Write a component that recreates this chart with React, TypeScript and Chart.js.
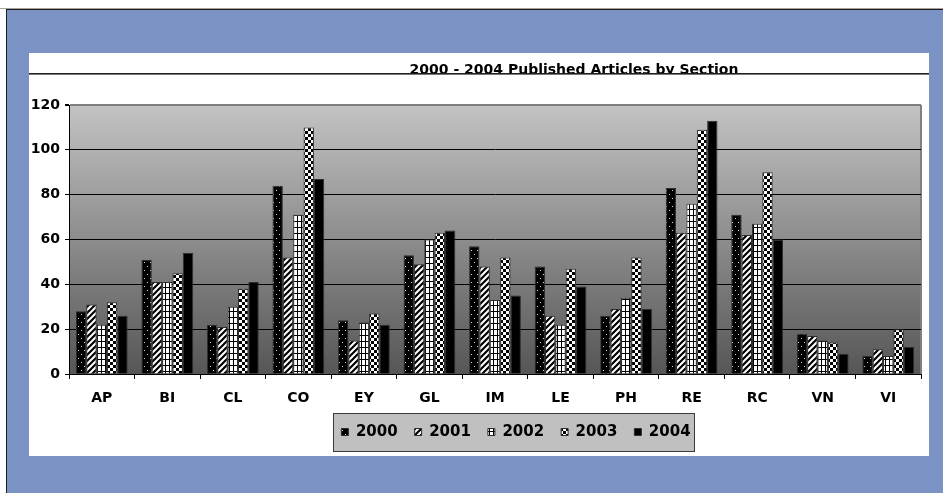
import React, { useEffect, useRef } from 'react';
import { Chart, registerables } from 'chart.js';

Chart.register(...registerables);

const categories = ['AP', 'BI', 'CL', 'CO', 'EY', 'GL', 'IM', 'LE', 'PH', 'RE', 'RC', 'VN', 'VI'];
const seriesNames = ['2000', '2001', '2002', '2003', '2004'];
const values2000 = [28, 51, 22, 84, 24, 53, 57, 48, 26, 83, 71, 18, 8];
const values2001 = [31, 41, 21, 52, 15, 49, 48, 26, 29, 63, 62, 17, 11];
const values2002 = [22, 41, 30, 71, 23, 60, 33, 22, 34, 76, 67, 15, 8];
const values2003 = [32, 45, 38, 110, 27, 63, 52, 47, 52, 109, 90, 14, 20];
const values2004 = [26, 54, 41, 87, 22, 64, 35, 39, 29, 113, 60, 9, 12];
const yTicks = [0, 20, 40, 60, 80, 100, 120];
const chartTitle = '2000 - 2004 Published Articles by Section';

const FONT = '"DejaVu Sans", "Liberation Sans", Arial, sans-serif';
const CANVAS_W = 900;
const CANVAS_H = 403;
const LEGEND_SHIFT = 41;

function makePattern(kind: string): CanvasPattern | string {
  if (kind === 'solid') return '#000000';
  const c = document.createElement('canvas');
  const x = c.getContext('2d') as CanvasRenderingContext2D;
  if (kind === 'dots') {
    c.width = 6; c.height = 8;
    x.fillStyle = '#000'; x.fillRect(0, 0, 6, 8);
    x.fillStyle = '#d8d8d8';
    x.fillRect(1, 1, 1, 1);
    x.fillRect(4, 5, 1, 1);
  } else if (kind === 'diag') {
    c.width = 6; c.height = 6;
    x.fillStyle = '#fff'; x.fillRect(0, 0, 6, 6);
    x.strokeStyle = '#000'; x.lineWidth = 2.2;
    x.beginPath();
    x.moveTo(-1, 7); x.lineTo(7, -1);
    x.moveTo(-1, 1); x.lineTo(1, -1);
    x.moveTo(5, 7); x.lineTo(7, 5);
    x.stroke();
  } else if (kind === 'grid') {
    c.width = 4; c.height = 6;
    x.fillStyle = '#fff'; x.fillRect(0, 0, 4, 6);
    x.fillStyle = '#000';
    x.fillRect(0, 0, 4, 1);
    x.fillRect(0, 0, 1, 6);
  } else if (kind === 'checker') {
    c.width = 6; c.height = 6;
    x.fillStyle = '#fff'; x.fillRect(0, 0, 6, 6);
    x.fillStyle = '#000';
    x.fillRect(0, 0, 3, 3);
    x.fillRect(3, 3, 3, 3);
  }
  return x.createPattern(c, 'repeat') as CanvasPattern;
}

const framePlugin = {
  id: 'framePlugin',
  afterLayout(chart: any) {
    const lg = chart.legend;
    if (lg) {
      lg.left += LEGEND_SHIFT;
      lg.right += LEGEND_SHIFT;
    }
  },
  beforeDraw(chart: any) {
    const { ctx, chartArea: a } = chart;
    ctx.save();
    // plot background gradient
    const g = ctx.createLinearGradient(0, a.top, 0, a.bottom);
    g.addColorStop(0, '#c3c3c3');
    g.addColorStop(1, '#565656');
    ctx.fillStyle = g;
    ctx.fillRect(a.left, a.top, a.right - a.left, a.bottom - a.top);
    // right border of plot
    ctx.strokeStyle = '#808080';
    ctx.lineWidth = 2;
    ctx.beginPath();
    ctx.moveTo(a.right, a.top);
    ctx.lineTo(a.right, a.bottom);
    ctx.stroke();

    // legend background box
    const lg = chart.legend;
    if (lg && lg.lineWidths) {
      const pad = lg.options.labels.padding;
      const lw = lg.lineWidths[0];
      const start = (lg.left + pad + lg.right - lw) / 2;
      const end = start + lw - pad;
      const cy = lg.top + pad + 7.5;
      const bx = Math.round(start - 8) + 0.5;
      const bw = Math.round(end + 4 - start + 8);
      const by = Math.round(cy - 19) + 0.5;
      ctx.fillStyle = '#c0c0c0';
      ctx.fillRect(bx, by, bw, 38);
      ctx.strokeStyle = '#3a3a3a';
      ctx.lineWidth = 1;
      ctx.strokeRect(bx, by, bw, 38);
    }

    // title with rule underneath
    const lineY = 20;
    ctx.save();
    ctx.beginPath();
    ctx.rect(0, 0, chart.width, lineY);
    ctx.clip();
    ctx.fillStyle = '#000';
    ctx.font = `bold 14px ${FONT}`;
    ctx.textAlign = 'center';
    ctx.textBaseline = 'alphabetic';
    ctx.fillText(chartTitle, 545, lineY + 1);
    ctx.restore();
    ctx.fillStyle = '#1e1e1e';
    ctx.fillRect(0, lineY, chart.width, 1.6);
    ctx.restore();
  },
};

export default function App() {
  const ref = useRef<HTMLCanvasElement | null>(null);

  useEffect(() => {
    const canvas = ref.current;
    if (!canvas) return;
    const kinds = ['dots', 'diag', 'grid', 'checker', 'solid'];
    const allValues = [values2000, values2001, values2002, values2003, values2004];
    const datasets = seriesNames.map((name, i) => ({
      label: name,
      data: allValues[i],
      backgroundColor: makePattern(kinds[i]),
      borderColor: '#2e2e2e',
      borderWidth: 1,
      categoryPercentage: 0.79,
      barPercentage: 1.0,
    }));

    const tickFont = { family: FONT, size: 14, weight: 'bold' as const };

    const chart = new Chart(canvas, {
      type: 'bar',
      data: { labels: categories, datasets },
      plugins: [framePlugin],
      options: {
        animation: false,
        responsive: false,
        devicePixelRatio: 1,
        layout: { padding: { top: 52, right: 8, left: 0, bottom: 6.5 } },
        plugins: {
          title: { display: false },
          tooltip: { enabled: false },
          legend: {
            position: 'bottom',
            labels: {
              boxWidth: 7,
              boxHeight: 7,
              padding: 17,
              color: '#000',
              font: { family: FONT, size: 15, weight: 'bold' },
            },
          },
        },
        scales: {
          x: {
            grid: {
              drawOnChartArea: false,
              drawTicks: true,
              tickLength: 5,
              color: '#000',
              tickColor: '#000',
              offset: true,
            },
            border: { display: true, color: '#000', width: 1 },
            ticks: {
              font: tickFont,
              color: '#000',
              padding: 11,
              maxRotation: 0,
              autoSkip: false,
            },
            afterFit(s: any) { s.height = 33.5; },
          },
          y: {
            min: 0,
            max: 120,
            afterBuildTicks(s: any) { s.ticks = yTicks.map((v) => ({ value: v })); },
            grid: {
              color: (c: any) => (c.tick && c.tick.value === 120 ? '#808080' : '#000'),
              lineWidth: (c: any) => (c.tick && c.tick.value === 120 ? 2 : 1),
              tickLength: 4,
              tickColor: '#000',
            },
            border: { display: true, color: '#000', width: 1 },
            ticks: {
              font: tickFont,
              color: '#000',
              padding: 5,
            },
            afterFit(s: any) { s.width = 40; },
          },
        },
      } as any,
    });
    return () => chart.destroy();
  }, []);

  return (
    <div style={{ position: 'fixed', left: 0, top: 0, width: 943, height: 493, background: '#ffffff', overflow: 'hidden' }}>
      <div style={{ position: 'absolute', left: 0, top: 8, width: 943, height: 1, background: '#a8a29c' }} />
      <div
        style={{
          position: 'absolute',
          left: 6,
          top: 9,
          right: 0,
          bottom: 0,
          background: '#7b93c4',
          borderTop: '1px solid #1e1e1e',
          borderLeft: '1px solid #1e1e1e',
        }}
      />
      <div style={{ position: 'absolute', left: 29, top: 53, width: CANVAS_W, height: CANVAS_H, background: '#ffffff' }}>
        <canvas ref={ref} width={CANVAS_W} height={CANVAS_H} style={{ display: 'block', width: CANVAS_W, height: CANVAS_H }} />
      </div>
    </div>
  );
}
